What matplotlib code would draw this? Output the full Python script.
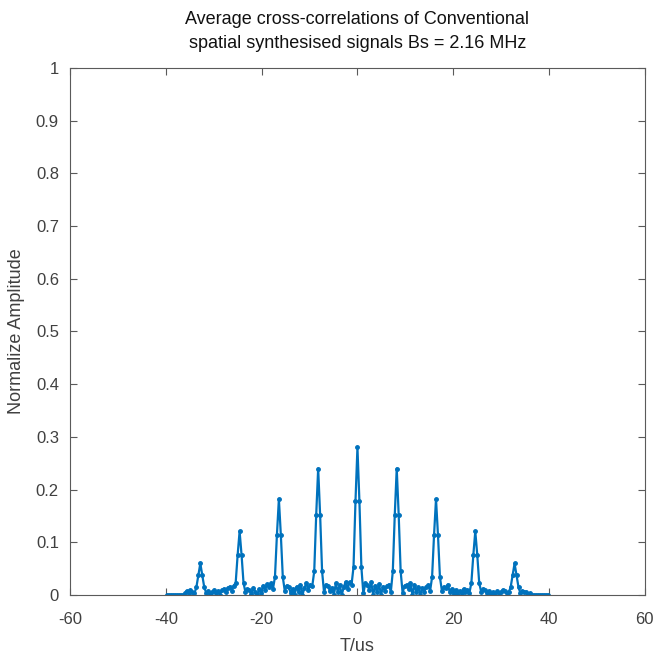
import numpy as np
import matplotlib
matplotlib.use("Agg")
import matplotlib.pyplot as plt

plt.rcParams["font.family"] = ["Liberation Sans", "DejaVu Sans"]
plt.rcParams["axes.unicode_minus"] = False

# ------------------------------------------------------------
# Data
# ------------------------------------------------------------
SAMPLE_US = 0.41          # sample period in us
N_HALF = 97               # samples on each side of zero lag

amp = [
    # k = -97 .. -83
    0, 0, 0, 0, 0, 0, 0, 0, 0, 0.003,
    0.008, 0.004, 0.010, 0.006, 0.003,
    # peak near -32.8 us
    0.015, 0.038, 0.060, 0.038, 0.015,
    0.004, 0.008, 0.002, 0.006, 0.009, 0.003, 0.007, 0.001,
    0.010, 0.012, 0.005, 0.014, 0.016, 0.008, 0.018,
    # peak near -24.6 us
    0.023, 0.076, 0.121, 0.076, 0.023,
    0.005, 0.012, 0.009, 0.002, 0.014, 0.006, 0.000, 0.011,
    0.004, 0.018, 0.010, 0.021, 0.016, 0.022, 0.012,
    # peak near -16.4 us
    0.034, 0.114, 0.182, 0.114, 0.034,
    0.008, 0.018, 0.015, 0.004, 0.012, 0.000, 0.016, 0.006,
    0.020, 0.000, 0.014, 0.022, 0.010, 0.020, 0.017,
    # peak near -8.2 us
    0.045, 0.152, 0.240, 0.152, 0.045,
    0.005, 0.020, 0.018, 0.007, 0.014, 0.000, 0.022, 0.006,
    0.020, 0.000, 0.015, 0.025, 0.012, 0.024, 0.020,
    # main lobe
    0.053, 0.178, 0.280, 0.178, 0.053,
    0.003, 0.022, 0.020, 0.010, 0.025, 0.000, 0.018, 0.005,
    0.021, 0.000, 0.016, 0.008, 0.018, 0.020, 0.006,
    # peak near 8.2 us
    0.045, 0.152, 0.240, 0.152, 0.045,
    0.004, 0.018, 0.020, 0.012, 0.022, 0.000, 0.020, 0.006,
    0.015, 0.000, 0.014, 0.005, 0.016, 0.019, 0.008,
    # peak near 16.4 us
    0.034, 0.114, 0.182, 0.114, 0.034,
    0.008, 0.016, 0.014, 0.020, 0.006, 0.012, 0.002, 0.010,
    0.000, 0.008, 0.003, 0.012, 0.006, 0.010, 0.004,
    # peak near 24.6 us
    0.023, 0.076, 0.121, 0.076, 0.023,
    0.006, 0.012, 0.010, 0.004, 0.008, 0.002, 0.006, 0.001,
    0.007, 0.004, 0.006, 0.010, 0.008, 0.003, 0.005,
    # peak near 32.8 us
    0.015, 0.038, 0.060, 0.038, 0.015,
    0.003, 0.008, 0.005, 0.006, 0.002, 0.004,
    0, 0, 0, 0, 0, 0, 0, 0, 0,
]

t_us = np.arange(-N_HALF, N_HALF + 1) * SAMPLE_US

XTICKS = [-60, -40, -20, 0, 20, 40, 60]
YTICKS = [0, 0.1, 0.2, 0.3, 0.4, 0.5, 0.6, 0.7, 0.8, 0.9, 1]
YTICKLABELS = ["0", "0.1", "0.2", "0.3", "0.4", "0.5", "0.6", "0.7", "0.8", "0.9", "1"]

# ------------------------------------------------------------
# Plot
# ------------------------------------------------------------
fig = plt.figure(figsize=(6.7, 6.59), dpi=100)
ax = fig.add_axes([0.1045, 0.097, 0.858, 0.8])

ax.plot(t_us, amp, "-", color="#0072BD", lw=1.6,
        marker=".", ms=5, mec="#0072BD", mfc="#0072BD")

ax.set_xlim(-60, 60)
ax.set_ylim(0, 1)
ax.set_xticks(XTICKS)
ax.set_yticks(YTICKS)
ax.set_yticklabels(YTICKLABELS)

edge = "#5a5a5a"
for sp in ax.spines.values():
    sp.set_color(edge)
    sp.set_linewidth(0.8)
ax.tick_params(direction="in", top=True, right=True, length=5,
               width=0.8, color=edge, labelsize=12, labelcolor="#404040")
ax.tick_params(axis="x", pad=12)
ax.tick_params(axis="y", pad=8)

ax.set_xlabel("T/us", fontsize=13, color="#404040", labelpad=8)
ax.set_ylabel("Normalize Amplitude", fontsize=13, color="#404040", labelpad=8)
ax.set_title("Average cross-correlations of Conventional\n"
             "spatial synthesised signals Bs = 2.16 MHz",
             fontsize=13, color="#111111", linespacing=1.55, pad=14)

fig.savefig("out.png", dpi=100)
